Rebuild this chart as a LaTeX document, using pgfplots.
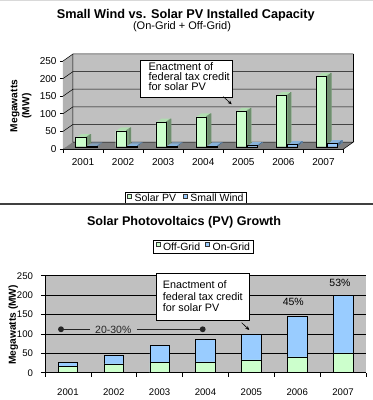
\documentclass[border=0pt]{standalone}
\usepackage{pgfplots}
\pgfplotsset{compat=1.18}
\usepackage{pgfplotstable}
\usepackage{fontspec}
\setmainfont{Liberation Sans}
\usetikzlibrary{arrows.meta}

\definecolor{wallgray}{HTML}{C0C0C0}
\definecolor{sidegray}{HTML}{B2B2B2}
\definecolor{floorgray}{HTML}{7F7F7F}
\definecolor{solarfront}{HTML}{CCFFCC}
\definecolor{solartop}{HTML}{B0DDB0}
\definecolor{solarside}{HTML}{6F8F6F}
\definecolor{windfront}{HTML}{99CCFF}
\definecolor{windtop}{HTML}{88B2DA}
\definecolor{windside}{HTML}{4F6F8F}

\pgfplotstableread{
x solar wind
0 26    1.5
1 45    2
2 70    2
3 85    2.5
4 100   3
5 145   6
6 199.5 9
}\topdata

\pgfplotstableread{
x off total
0 15.5 26
1 22.5 45
2 26   70
3 28   85
4 33   100
5 41   145
6 51   199.5
}\botdata

\pgfplotsset{
  commonax/.style={
    scale only axis, anchor=south west,
    xmin=-0.5, xmax=6.5, ymin=0, ymax=250,
    axis x line*=bottom, axis y line*=left,
    axis line style={black, line width=0.6pt, -},
    xtick={0,1,2,3,4,5,6},
    xticklabels={2001,2002,2003,2004,2005,2006,2007},
    major x tick style={draw=none},
    minor xtick={-0.5,0.5,1.5,2.5,3.5,4.5,5.5,6.5},
    minor x tick style={draw=black, line width=0.6pt},
    ytick={0,50,100,150,200,250},
    major y tick style={black, line width=0.6pt},
    tick align=outside,
    /pgf/number format/assume math mode=true,
    legend columns=-1,
    legend image code/.code={\draw[##1, draw=black!80, line width=0.4pt] (0pt,0.3pt) rectangle (4.2pt,4.5pt); \path (6pt,0pt);},
  },
  bar3d/.style={ybar, forget plot, draw=none},
}

\begin{document}
\begin{tikzpicture}
\useasboundingbox (0,0) rectangle (373pt,400pt);

% ---------------- top chart ----------------
\begin{axis}[commonax,
  at={(63pt,251pt)}, width=280.5pt, height=88pt, clip=false,
  major tick length=3pt, minor tick length=4pt,
  tick label style={font=\fontsize{10}{12}\selectfont},
  xticklabel style={yshift=-3pt},
  legend style={at={(0.438,-0.5625)}, anchor=center, draw=black, line width=0.5pt,
    fill=white, inner xsep=2pt, inner ysep=0.5pt,
    font=\fontsize{10.5}{12}\selectfont,
    /tikz/every even column/.append style={column sep=6pt},
    nodes={inner sep=1pt}},
]
% walls and floor
\fill[wallgray] ([shift={(10pt,7pt)}]axis cs:-0.5,0) rectangle ([shift={(10pt,7pt)}]axis cs:6.5,250);
\fill[sidegray] (axis cs:-0.5,0) -- (axis cs:-0.5,250) -- ([shift={(10pt,7pt)}]axis cs:-0.5,250) -- ([shift={(10pt,7pt)}]axis cs:-0.5,0) -- cycle;
\fill[floorgray] (axis cs:-0.5,0) -- (axis cs:6.5,0) -- ([shift={(10pt,7pt)}]axis cs:6.5,0) -- ([shift={(10pt,7pt)}]axis cs:-0.5,0) -- cycle;
\pgfplotsinvokeforeach{50,100,150,200,250}{
  \draw[black, line width=0.5pt] (axis cs:-0.5,#1) -- ([shift={(10pt,7pt)}]axis cs:-0.5,#1) -- ([shift={(10pt,7pt)}]axis cs:6.5,#1);
}
\draw[black, line width=0.5pt] ([shift={(10pt,7pt)}]axis cs:6.5,0) -- ([shift={(10pt,7pt)}]axis cs:6.5,250);
\draw[black, line width=0.5pt] (axis cs:6.5,0) -- ([shift={(10pt,7pt)}]axis cs:6.5,0) -- ([shift={(10pt,7pt)}]axis cs:-0.5,0) -- ([shift={(10pt,7pt)}]axis cs:-0.5,250);

% Solar PV: top face, side face, front face
\addplot[bar3d, bar width=10.4pt, bar shift=-0.95pt, fill=solartop, yshift=3.175pt] table[x=x,y=solar]{\topdata};
\addplot[bar3d, bar width=10.4pt, bar shift=0.3pt,   fill=solartop, yshift=4.05pt]  table[x=x,y=solar]{\topdata};
\addplot[bar3d, bar width=10.4pt, bar shift=1.55pt,  fill=solartop, yshift=4.925pt] table[x=x,y=solar]{\topdata};
\addplot[bar3d, bar width=10.4pt, bar shift=2.8pt,   fill=solartop, yshift=5.8pt]   table[x=x,y=solar]{\topdata};
\addplot[bar3d, bar width=1.4pt, bar shift=3.625pt, fill=solarside, yshift=3.175pt] table[x=x,y=solar]{\topdata};
\addplot[bar3d, bar width=1.4pt, bar shift=4.875pt, fill=solarside, yshift=4.05pt]  table[x=x,y=solar]{\topdata};
\addplot[bar3d, bar width=1.4pt, bar shift=6.125pt, fill=solarside, yshift=4.925pt] table[x=x,y=solar]{\topdata};
\addplot[bar3d, bar width=1.4pt, bar shift=7.375pt, fill=solarside, yshift=5.8pt]   table[x=x,y=solar]{\topdata};
\addplot[ybar, forget plot, bar width=10.4pt, bar shift=-2.2pt, draw=black, line width=0.4pt, fill=solarfront, yshift=2.3pt] table[x=x,y=solar]{\topdata};

% Small Wind
\addplot[bar3d, bar width=10.4pt, bar shift=10.25pt, fill=windtop, yshift=3.175pt] table[x=x,y=wind]{\topdata};
\addplot[bar3d, bar width=10.4pt, bar shift=11.5pt,  fill=windtop, yshift=4.05pt]  table[x=x,y=wind]{\topdata};
\addplot[bar3d, bar width=10.4pt, bar shift=12.75pt, fill=windtop, yshift=4.925pt] table[x=x,y=wind]{\topdata};
\addplot[bar3d, bar width=10.4pt, bar shift=14pt,    fill=windtop, yshift=5.8pt]   table[x=x,y=wind]{\topdata};
\addplot[bar3d, bar width=1.4pt, bar shift=14.825pt, fill=windside, yshift=3.175pt] table[x=x,y=wind]{\topdata};
\addplot[bar3d, bar width=1.4pt, bar shift=16.075pt, fill=windside, yshift=4.05pt]  table[x=x,y=wind]{\topdata};
\addplot[bar3d, bar width=1.4pt, bar shift=17.325pt, fill=windside, yshift=4.925pt] table[x=x,y=wind]{\topdata};
\addplot[bar3d, bar width=1.4pt, bar shift=18.575pt, fill=windside, yshift=5.8pt]   table[x=x,y=wind]{\topdata};
\addplot[ybar, forget plot, bar width=10.4pt, bar shift=9pt, draw=black, line width=0.4pt, fill=windfront, yshift=2.3pt] table[x=x,y=wind]{\topdata};

\addlegendimage{fill=solarfront}
\addlegendentry{Solar PV}
\addlegendimage{fill=windfront}
\addlegendentry{Small Wind}
\end{axis}

% ---------------- bottom chart ----------------
\begin{axis}[commonax,
  at={(45pt,27.3pt)}, width=321pt, height=97pt,
  axis background/.style={fill=wallgray},
  ymajorgrids, grid style={black, line width=0.5pt},
  major tick length=4pt, minor tick length=4pt,
  tick label style={font=\fontsize{9.6}{11}\selectfont},
  xticklabel style={yshift=-9pt},
  yticklabel style={xshift=-4.5pt},
  legend style={at={(0.493,1.296)}, anchor=center, draw=black, line width=0.5pt,
    fill=white, inner xsep=2pt, inner ysep=0.8pt,
    font=\fontsize{10.5}{12}\selectfont,
    /tikz/every even column/.append style={column sep=4pt},
    nodes={inner sep=1pt}},
]
\addplot[ybar, forget plot, bar width=19.5pt, fill=windfront, draw=black, line width=0.5pt] table[x=x,y=total]{\botdata};
\addplot[ybar, forget plot, bar width=19.5pt, fill=solarfront, draw=black, line width=0.5pt] table[x=x,y=off]{\botdata};

\addplot[black!85, line width=1.2pt, mark=*, mark size=2.3pt, mark indices={1}, forget plot] coordinates {(-0.151,111.9) (0.481,111.9)};
\addplot[black!85, line width=1.2pt, mark=*, mark size=2.3pt, mark indices={2}, forget plot] coordinates {(1.506,111.9) (2.939,111.9)};
\node[font=\fontsize{10.5}{12}\selectfont, text=black!85] at (axis cs:0.99,110) {20-30\%};

\addlegendimage{fill=solarfront}
\addlegendentry{Off-Grid}
\addlegendimage{fill=windfront}
\addlegendentry{On-Grid}
\end{axis}

% ---------------- titles, labels, annotations ----------------
\draw[black!15, line width=1pt] (0,399.5pt) -- (373pt,399.5pt);
\draw[black!75, line width=1.2pt] (0,196pt) -- (373pt,196pt);

\node[anchor=base, inner sep=0pt, font=\bfseries\fontsize{12.7}{15}\selectfont] at (185.8pt,381.3pt) {Small Wind vs. Solar PV Installed Capacity};
\node[anchor=base, inner sep=0pt, font=\fontsize{11}{13}\selectfont] at (182pt,370.5pt) {(On-Grid + Off-Grid)};
\node[rotate=90, align=center, inner sep=0pt, font=\bfseries\fontsize{10.2}{12}\selectfont] at (21pt,294pt) {Megawatts\\(MW)};

\draw[fill=white, line width=0.6pt] (140pt,339.3pt) rectangle (232.7pt,302.7pt);
\node[anchor=base west, inner sep=0pt, font=\fontsize{11}{13}\selectfont] at (148.3pt,329.8pt) {Enactment of};
\node[anchor=base west, inner sep=0pt, font=\fontsize{11}{13}\selectfont] at (148.3pt,319.5pt) {federal tax credit};
\node[anchor=base west, inner sep=0pt, font=\fontsize{11}{13}\selectfont] at (148.3pt,309.2pt) {for solar PV};
\draw[-{Stealth[length=4pt,width=3.5pt]}, line width=0.6pt] (223.3pt,303.3pt) -- (231.7pt,295.7pt);

\node[anchor=base, inner sep=0pt, font=\bfseries\fontsize{12.6}{15}\selectfont] at (184pt,174.2pt) {Solar Photovoltaics (PV) Growth};
\node[rotate=90, inner sep=0pt, font=\bfseries\fontsize{10.2}{12}\selectfont] at (13.3pt,75pt) {Megawatts (MW)};

\draw[fill=white, line width=0.6pt] (156pt,126.7pt) rectangle (249.3pt,80pt);
\node[anchor=base west, inner sep=0pt, font=\fontsize{10.8}{13}\selectfont] at (162.7pt,111.5pt) {Enactment of};
\node[anchor=base west, inner sep=0pt, font=\fontsize{10.8}{13}\selectfont] at (162.7pt,99.8pt) {federal tax credit};
\node[anchor=base west, inner sep=0pt, font=\fontsize{10.8}{13}\selectfont] at (162.7pt,88.2pt) {for solar PV};
\draw[-{Stealth[length=4pt,width=3.5pt]}, line width=0.6pt] (241.7pt,77.3pt) -- (249.3pt,70pt);

\node[font=\fontsize{10.5}{12}\selectfont] at (293.3pt,98.3pt) {45\%};
\node[font=\fontsize{10.5}{12}\selectfont] at (340pt,117.3pt) {53\%};
\end{tikzpicture}
\end{document}
